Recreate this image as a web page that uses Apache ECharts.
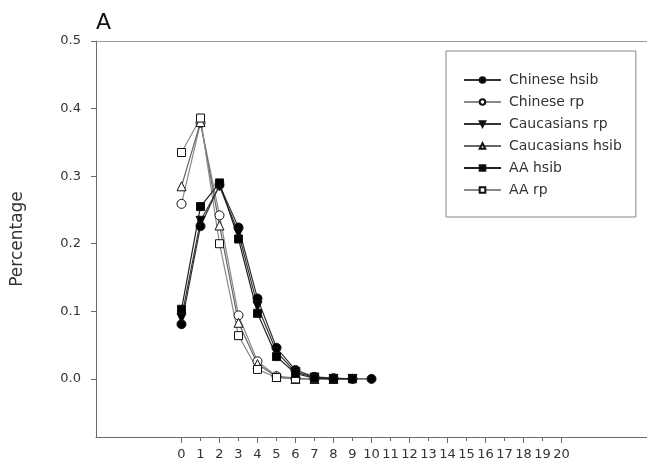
<!DOCTYPE html>
<html>
<head>
<meta charset="utf-8">
<script src="https://cdn.jsdelivr.net/npm/echarts@6/dist/echarts.min.js"></script>
<style>
  html, body { margin: 0; padding: 0; background: #fff; }
  #chart { width: 647px; height: 475px; }
</style>
</head>
<body>
<div id="chart"></div>
<script>
// sibling count on x, share on y
const xValues = [0, 1, 2, 3, 4, 5, 6, 7, 8, 9, 10];
const xTicks = [0, 1, 2, 3, 4, 5, 6, 7, 8, 9, 10, 11, 12, 13, 14, 15, 16, 17, 18, 19, 20];
const xMajorTicks = [0, 2, 4, 6, 8, 10, 12, 14, 16, 18, 20];
const yTicks = [0.0, 0.1, 0.2, 0.3, 0.4, 0.5];

const chineseHsib = [0.081, 0.226, 0.287, 0.224, 0.119, 0.046, 0.013, 0.003, 0.001, 0.0, 0.0];
const chineseRp = [0.259, 0.379, 0.242, 0.094, 0.026, 0.004, 0.001, 0.0, 0.0];
const caucasiansRp = [0.090, 0.234, 0.285, 0.216, 0.108, 0.040, 0.010, 0.002, 0.0, 0.0];
const caucasiansHsib = [0.285, 0.380, 0.227, 0.083, 0.022, 0.003, 0.0, 0.0, 0.0];
const aaHsib = [0.103, 0.255, 0.290, 0.207, 0.097, 0.033, 0.008, 0.001, 0.0, 0.0];
const aaRp = [0.335, 0.386, 0.200, 0.064, 0.014, 0.002, 0.0, 0.0, 0.0];

const FONT = '"DejaVu Sans", sans-serif';
const AXIS = '#6b6b6b';

function pairs(vals) {
  return vals.map((v, i) => [xValues[i], v]);
}

function lineSeries(name, vals, symbol, filled, lineColor, rotate) {
  return {
    name,
    type: 'line',
    data: pairs(vals),
    symbol,
    symbolSize: symbol === 'rect' ? 8 : 9,
    symbolRotate: rotate || 0,
    showAllSymbol: true,
    lineStyle: { color: lineColor, width: 1.2 },
    itemStyle: {
      color: filled ? '#000' : '#fff',
      borderColor: '#111',
      borderWidth: 1,
    },
    emphasis: { disabled: true },
    z: filled ? 3 : 2,
  };
}

const chart = echarts.init(document.getElementById('chart'));
chart.setOption({
  animation: false,
  backgroundColor: '#fff',
  title: {
    text: 'A',
    left: 91,
    top: 7,
    textStyle: { fontFamily: FONT, fontSize: 22, fontWeight: 'normal', color: '#111' },
  },
  legend: {
    orient: 'vertical',
    left: 446,
    top: 51,
    padding: [22, 14, 20, 17],
    itemGap: 8,
    itemWidth: 37,
    itemHeight: 7,
    borderColor: '#888',
    borderWidth: 1,
    textStyle: { fontFamily: FONT, fontSize: 14, color: '#333', padding: [0, 0, 0, 3] },
    data: ['Chinese hsib', 'Chinese rp', 'Caucasians rp', 'Caucasians hsib', 'AA hsib', 'AA rp'],
  },
  grid: { left: 96, top: 41, right: 0, bottom: 38, containLabel: false },
  xAxis: [
    {
      type: 'value',
      min: -4.5,
      max: 24.5,
      position: 'bottom',
      axisLine: { onZero: false, lineStyle: { color: AXIS, width: 1 } },
      axisTick: { customValues: xTicks, length: 4, lineStyle: { color: AXIS } },
      axisLabel: {
        customValues: xTicks,
        margin: 11,
        fontFamily: FONT,
        fontSize: 13,
        color: '#333',
      },
      splitLine: { show: false },
    },
    {
      type: 'value',
      min: -4.5,
      max: 24.5,
      position: 'bottom',
      axisLine: { show: false, onZero: false },
      axisTick: { customValues: xMajorTicks, length: 6, lineStyle: { color: AXIS } },
      axisLabel: { show: false },
      splitLine: { show: false },
    },
    {
      type: 'value',
      min: -4.5,
      max: 24.5,
      position: 'top',
      axisLine: { onZero: false, lineStyle: { color: '#999', width: 1 } },
      axisTick: { show: false },
      axisLabel: { show: false },
      splitLine: { show: false },
    },
  ],
  yAxis: {
    type: 'value',
    min: -0.086,
    max: 0.5,
    name: 'Percentage',
    nameLocation: 'middle',
    nameGap: 70,
    nameRotate: 90,
    nameTextStyle: { fontFamily: FONT, fontSize: 17, color: '#333' },
    axisLine: { onZero: false, lineStyle: { color: AXIS, width: 1 } },
    axisTick: { customValues: yTicks, length: 5, lineStyle: { color: AXIS } },
    axisLabel: {
      customValues: yTicks,
      margin: 15,
      fontFamily: FONT,
      fontSize: 13,
      color: '#333',
      formatter: (v) => Number(v).toFixed(1),
    },
    splitLine: { show: false },
  },
  series: [
    lineSeries('Chinese hsib', chineseHsib, 'circle', true, '#333'),
    lineSeries('Chinese rp', chineseRp, 'circle', false, '#888'),
    lineSeries('Caucasians rp', caucasiansRp, 'triangle', true, '#333', 180),
    lineSeries('Caucasians hsib', caucasiansHsib, 'triangle', false, '#666'),
    lineSeries('AA hsib', aaHsib, 'rect', true, '#222'),
    lineSeries('AA rp', aaRp, 'rect', false, '#888'),
  ],
});
</script>
</body>
</html>
